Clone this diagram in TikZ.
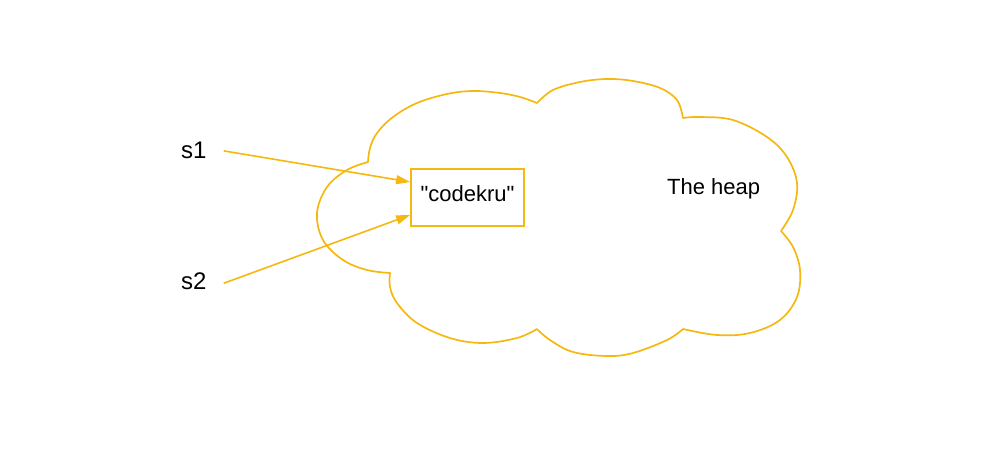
\documentclass[tikz,border=0pt]{standalone}
\usepackage{fontspec}
\setmainfont{Liberation Sans}[Ligatures=TeXOff]
\usetikzlibrary{arrows.meta}
\definecolor{gold}{RGB}{245,184,16}
\tikzset{
  cloudline/.style={draw=gold, line width=1.7pt, line join=round},
  boxstyle/.style={draw=gold, line width=1.8pt, inner sep=0pt, minimum width=113pt, minimum height=57pt, text height=15.7pt, text depth=8.7pt},
  lbl/.style={inner sep=0pt, font=\fontsize{22}{26}\selectfont},
  var/.style={inner sep=0pt, font=\fontsize{24}{28}\selectfont},
  arr/.style={draw=gold, line width=1.6pt, -{Triangle[length=14pt, width=9pt, fill=gold]}},
}
\begin{document}
\begin{tikzpicture}[x=1pt, y=-1pt]
\useasboundingbox (0,0) rectangle (982,465);
% the heap cloud
\draw[cloudline]
  plot[smooth, tension=0.6] coordinates {(368,162)(370,148)(377,133)(393,117)(417,103)(447,94)(473,91)(500,93)(520,97)(537,103)}
  -- plot[smooth, tension=0.6] coordinates {(537,103)(553,90)(580,82)(607,79)(633,81)(660,88)(677,100)(683,118)}
  -- plot[smooth, tension=0.6] coordinates {(683,118)(700,117)(733,120)(767,137)(787,157)(797,183)(793,210)(781,231)}
  -- plot[smooth, tension=0.6] coordinates {(781,231)(793,247)(800,270)(797,297)(780,320)(750,333)(717,335)(683,329)}
  -- plot[smooth, tension=0.6] coordinates {(683,329)(667,340)(633,353)(607,356)(573,352)(550,340)(537,329)}
  -- plot[smooth, tension=0.6] coordinates {(537,329)(517,338)(483,343)(450,338)(417,323)(397,303)(390,287)(390,273)}
  -- plot[smooth, tension=0.6] coordinates {(390,273)(367,270)(343,260)(323,240)(317,213)(327,187)(347,170)(368,162)}
  -- cycle;
\node[boxstyle, lbl, fill=white] (box) at (467.5,197.5) {"codekru"};
\node[lbl, anchor=base west] (heap) at (667,194) {The heap};
\node[var, anchor=base west] (s1) at (181,159) {s1};
\node[var, anchor=base west] (s2) at (181,289) {s2};
\draw[arr] ([xshift=17pt]s1.east) -- ([yshift=15.5pt]box.west);
\draw[arr] ([xshift=17pt, yshift=-2.5pt]s2.east) -- ([yshift=-17.5pt]box.west);
\end{tikzpicture}
\end{document}
